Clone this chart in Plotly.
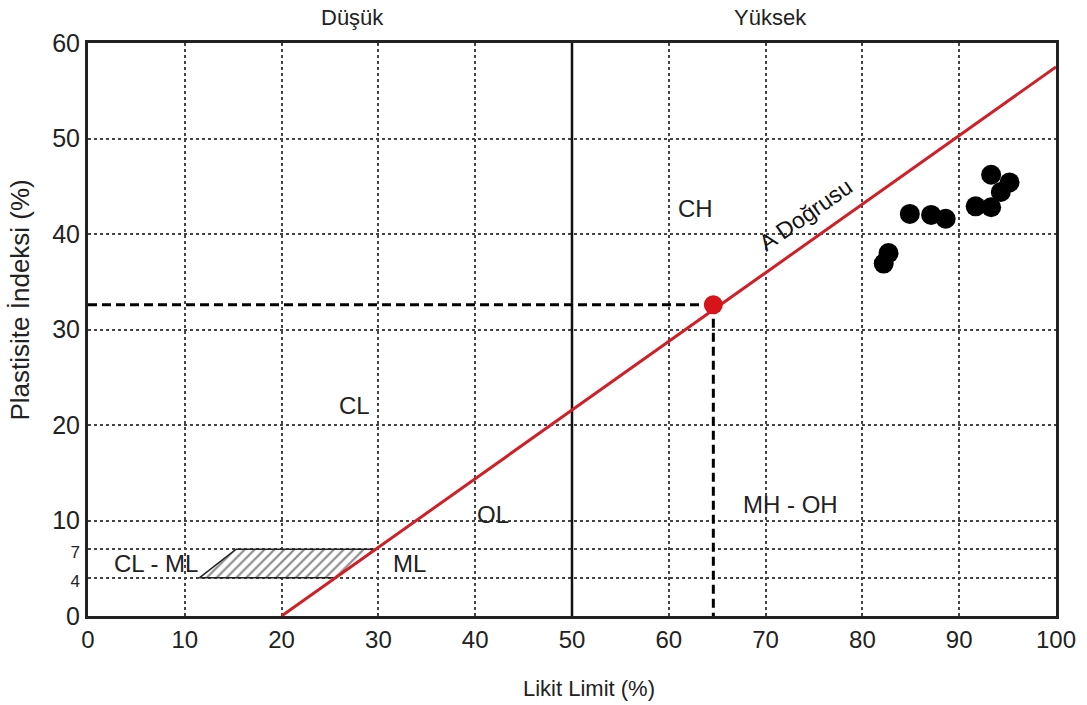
import plotly.graph_objects as go

# ---- data ----
ll_samples = [82.2, 82.7, 84.9, 87.1, 88.6, 91.7, 93.3, 93.3, 94.3, 95.2]
pi_samples = [36.9, 38.0, 42.1, 42.0, 41.6, 42.9, 42.8, 46.2, 44.4, 45.4]

a_line_x = [20, 100]
a_line_y = [0, 57.5]

mean_ll = [64.6]
mean_pi = [32.6]

clml_x = [11.5, 25.5, 29.7, 15.3, 11.5]
clml_y = [4, 4, 7, 7, 4]

boundary_x = [50, 50]
boundary_y = [0, 60]

x_ticks = [0, 10, 20, 30, 40, 50, 60, 70, 80, 90, 100]
y_ticks = [0, 4, 7, 10, 20, 30, 40, 50, 60]
y_tick_text = ["0", "<span style='font-size:17px'>4</span>", "<span style='font-size:17px'>7</span>",
               "10", "20", "30", "40", "50", "60"]

zone_labels = ["CL - ML", "ML", "CL", "OL", "CH", "MH - OH"]
zone_x = [7.0, 33.2, 27.5, 41.8, 62.8, 72.6]
zone_y = [5.5, 5.5, 22.0, 10.6, 42.7, 11.7]

top_labels = ["Düşük", "Yüksek"]
top_px = [0.273, 0.705]

FONT = "Liberation Sans, Arial, Helvetica, sans-serif"

fig = go.Figure()

# hatched CL-ML zone
fig.add_trace(go.Scatter(
    x=clml_x, y=clml_y, mode="lines", fill="toself",
    line=dict(color="#222", width=1.5),
    fillcolor="white",
    fillpattern=dict(shape="/", fgcolor="#111", bgcolor="white", size=7, solidity=0.3),
    hoverinfo="skip", showlegend=False))

# low/high boundary at LL=50
fig.add_trace(go.Scatter(x=boundary_x, y=boundary_y, mode="lines",
                         line=dict(color="#111", width=2.5), showlegend=False))

# dashed guides to mean point
fig.add_trace(go.Scatter(x=[0, mean_ll[0]], y=[mean_pi[0], mean_pi[0]], mode="lines",
                         line=dict(color="black", width=3, dash="9px,5px"), showlegend=False))
fig.add_trace(go.Scatter(x=[mean_ll[0], mean_ll[0]], y=[mean_pi[0], 0], mode="lines",
                         line=dict(color="black", width=3, dash="9px,5px"), showlegend=False))

# A line
fig.add_trace(go.Scatter(x=a_line_x, y=a_line_y, mode="lines",
                         line=dict(color="#d01f26", width=3), showlegend=False))

# mean point
fig.add_trace(go.Scatter(x=mean_ll, y=mean_pi, mode="markers",
                         marker=dict(color="#d7141a", size=19), showlegend=False))

# samples
fig.add_trace(go.Scatter(x=ll_samples, y=pi_samples, mode="markers",
                         marker=dict(color="black", size=20), showlegend=False))

annotations = []
for t, x, y in zip(zone_labels, zone_x, zone_y):
    annotations.append(dict(x=x, y=y, xref="x", yref="y", text=t, showarrow=False,
                            font=dict(family=FONT, size=24, color="#222")))
for t, x in zip(top_labels, top_px):
    annotations.append(dict(x=x, y=1.044, xref="paper", yref="paper", text=t, showarrow=False,
                            xanchor="center", yanchor="middle",
                            font=dict(family=FONT, size=22, color="#222")))
annotations.append(dict(x=74.1, y=42.0, xref="x", yref="y", text="A Doğrusu", showarrow=False,
                        textangle=-35, font=dict(family=FONT, size=23, color="#111")))
annotations.append(dict(x=0.518, y=-0.126, xref="paper", yref="paper", text="Likit Limit (%)",
                        showarrow=False, xanchor="center", yanchor="middle",
                        font=dict(family=FONT, size=22, color="#222")))
annotations.append(dict(x=-0.070, y=0.551, xref="paper", yref="paper", text="Plastisite İndeksi (%)",
                        showarrow=False, textangle=-90, xanchor="center", yanchor="middle",
                        font=dict(family=FONT, size=26, color="#222")))

fig.update_layout(
    width=1087, height=705,
    margin=dict(l=88, r=31, t=43, b=89),
    paper_bgcolor="white", plot_bgcolor="white",
    annotations=annotations,
    showlegend=False,
)

fig.update_xaxes(
    range=[0, 100], tickvals=x_ticks,
    showgrid=True, gridcolor="#444", gridwidth=1.5, griddash="dot",
    showline=True, linecolor="#222", linewidth=3, mirror=True,
    zeroline=False, ticks="",
    tickfont=dict(family=FONT, size=24, color="#222"),
)
fig.update_yaxes(
    range=[0, 60], tickvals=y_ticks, ticktext=y_tick_text,
    showgrid=True, gridcolor="#444", gridwidth=1.5, griddash="dot",
    showline=True, linecolor="#222", linewidth=3, mirror=True,
    zeroline=False, ticks="",
    tickfont=dict(family=FONT, size=25, color="#222"),
)

fig.write_html("out.html", config={"displayModeBar": False},
               post_script="document.body.style.margin='0';")
